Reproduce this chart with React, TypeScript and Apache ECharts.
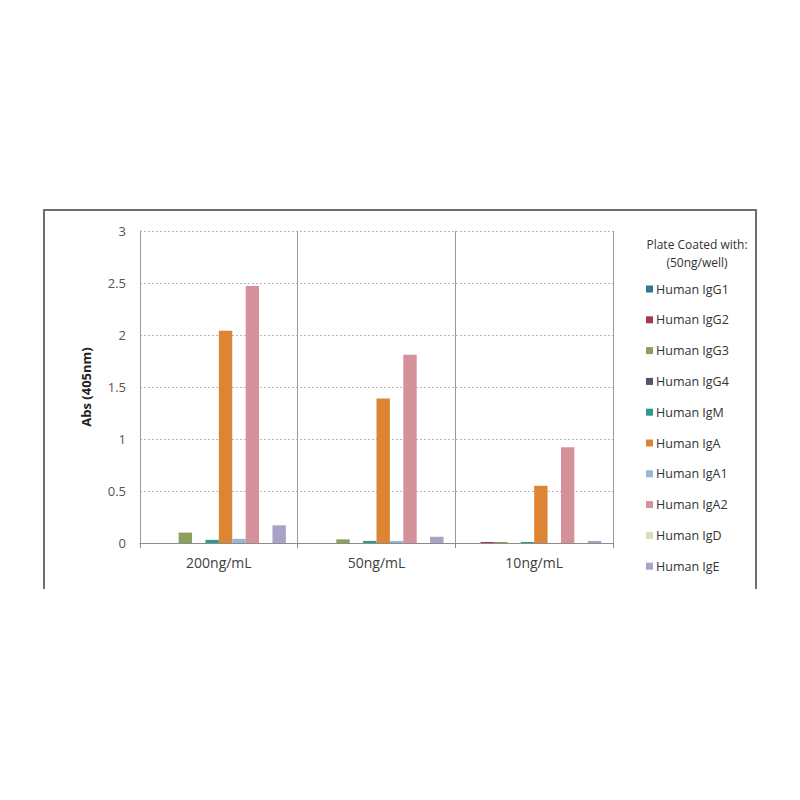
import React, { useEffect, useRef } from "react";
import * as echarts from "echarts";

const categories = ["200ng/mL", "50ng/mL", "10ng/mL"];
const seriesNames = [
  "Human IgG1",
  "Human IgG2",
  "Human IgG3",
  "Human IgG4",
  "Human IgM",
  "Human IgA",
  "Human IgA1",
  "Human IgA2",
  "Human IgD",
  "Human IgE",
];
const seriesColors = [
  "#31778f",
  "#a33a4c",
  "#8ba05a",
  "#545468",
  "#2f9a8c",
  "#de8535",
  "#9bb5d6",
  "#d4919a",
  "#d5e2b8",
  "#a9a1c6",
];
// one row per series, one value per category
const values = [
  [0.0, 0.0, 0.0],
  [0.0, 0.0, 0.01],
  [0.1, 0.035, 0.01],
  [0.0, 0.0, 0.0],
  [0.03, 0.02, 0.01],
  [2.04, 1.39, 0.55],
  [0.04, 0.02, 0.0],
  [2.47, 1.81, 0.92],
  [0.0, 0.0, 0.0],
  [0.17, 0.06, 0.02],
];
const yTicks = [0, 0.5, 1, 1.5, 2, 2.5, 3];

const FONT = "'Open Sans', 'Noto Sans', sans-serif";

const App: React.FC = () => {
  const chartRef = useRef<HTMLDivElement>(null);

  useEffect(() => {
    if (!chartRef.current) return;
    const chart = echarts.init(chartRef.current, undefined, { renderer: "svg" });

    const option: echarts.EChartsOption = {
      animation: false,
      backgroundColor: "#fff",
      title: {
        text: "Plate Coated with:\n(50ng/well)",
        left: 692,
        top: 230,
        textAlign: "center",
        textStyle: {
          fontFamily: FONT,
          fontSize: 12,
          fontWeight: "normal",
          color: "#333",
          lineHeight: 18,
        },
      },
      legend: {
        orient: "vertical",
        left: 641,
        top: 277,
        itemWidth: 7,
        itemHeight: 7,
        itemGap: 16.8,
        icon: "rect",
        data: seriesNames,
        textStyle: {
          fontFamily: FONT,
          fontSize: 12.5,
          color: "#333",
          lineHeight: 14,
          padding: [0, 0, 0, -2],
        },
      },
      grid: { left: 140, right: 187, top: 231, bottom: 257 },
      xAxis: {
        type: "category",
        data: categories,
        axisLine: { lineStyle: { color: "#8c8c8c", width: 1 } },
        axisTick: { show: true, length: 5, lineStyle: { color: "#8c8c8c" } },
        splitLine: { show: true, lineStyle: { color: "#9a9a9a", width: 1 } },
        axisLabel: {
          fontFamily: FONT,
          fontSize: 14,
          color: "#404040",
          margin: 12,
        },
      },
      yAxis: {
        type: "value",
        min: yTicks[0],
        max: yTicks[yTicks.length - 1],
        interval: 0.5,
        name: "Abs (405nm)",
        nameLocation: "middle",
        nameGap: 48,
        nameTextStyle: {
          fontFamily: FONT,
          fontSize: 13,
          fontWeight: "bold",
          color: "#222",
        },
        axisLine: { show: true, lineStyle: { color: "#9a9a9a" } },
        axisTick: { show: false },
        axisLabel: {
          fontFamily: FONT,
          fontSize: 13,
          color: "#555",
          margin: 14,
        },
        splitLine: {
          show: true,
          lineStyle: { color: "#b8b8b8", type: [2, 2], width: 1 },
        },
      },
      graphic: [
        {
          type: "polyline",
          shape: {
            points: [
              [44, 589],
              [44, 210],
              [756, 210],
              [756, 589],
            ],
          },
          style: { stroke: "#6e6e6e", lineWidth: 2, fill: "none" },
          silent: true,
        },
      ],
      series: seriesNames.map((name, i) => ({
        name,
        type: "bar",
        data: values[i],
        barGap: "0%",
        barCategoryGap: "15%",
        itemStyle: { color: seriesColors[i] },
      })),
    };

    chart.setOption(option);
    return () => {
      chart.dispose();
    };
  }, []);

  return (
    <div
      ref={chartRef}
      style={{ position: "fixed", left: 0, top: 0, width: 800, height: 800 }}
    />
  );
};

export default App;
